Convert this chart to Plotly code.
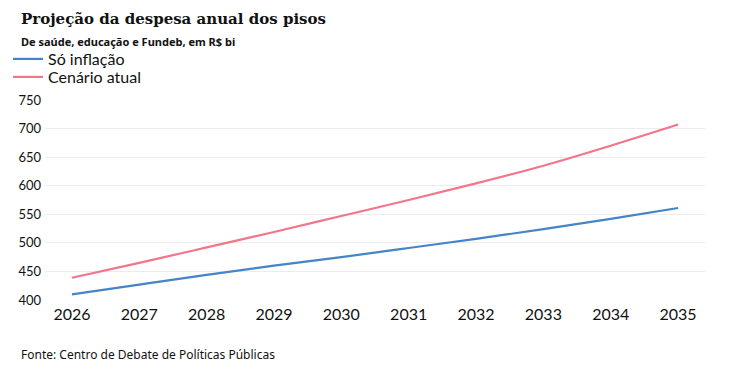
import plotly.graph_objects as go

years = [2026, 2027, 2028, 2029, 2030, 2031, 2032, 2033, 2034, 2035]
so_inflacao = [410, 427, 444, 460, 475, 491, 507, 524, 542, 561]
cenario_atual = [439, 465, 492, 519, 547, 575, 604, 635, 670, 707]
y_ticks = [400, 450, 500, 550, 600, 650, 700, 750]

title = "Projeção da despesa anual dos pisos"
subtitle = "De saúde, educação e Fundeb, em R$ bi"
source = "Fonte: Centro de Debate de Políticas Públicas"

W, H = 737, 372
OFF = 8  # page body margin
L, R, T, B = 37, 40, 92, 80
PW, PH = W - L - R, H - T - B


def px(x):
    return (x - OFF - L) / PW


def py(y):
    return (H - B - (y - OFF)) / PH


fig = go.Figure()
fig.add_trace(go.Scatter(x=years, y=so_inflacao, mode="lines", name="Só inflação",
                         legend="legend",
                         line=dict(color="#4584c6", width=2.2, shape="spline")))
fig.add_trace(go.Scatter(x=years, y=cenario_atual, mode="lines", name="Cenário atual",
                         legend="legend2",
                         line=dict(color="#f37588", width=2.2, shape="spline")))

leg_font = dict(size=16, family="Lato, sans-serif", color="#111")
fig.update_layout(
    width=W, height=H,
    margin=dict(l=L, r=R, t=T, b=B, autoexpand=False),
    paper_bgcolor="white", plot_bgcolor="white",
    font=dict(family="Lato, sans-serif", color="#111"),
    showlegend=True,
    legend=dict(xref="container", yref="container", x=0, y=1 - 34 / H,
                xanchor="left", yanchor="top", font=leg_font,
                itemwidth=30, bgcolor="rgba(0,0,0,0)"),
    legend2=dict(xref="container", yref="container", x=0, y=1 - 52 / H,
                 xanchor="left", yanchor="top", font=leg_font,
                 itemwidth=30, bgcolor="rgba(0,0,0,0)"),
)

fig.add_annotation(text="<b>" + title + "</b>", xref="paper", yref="paper",
                   x=px(19), y=py(19), xanchor="left", yanchor="middle", showarrow=False,
                   font=dict(family="DejaVu Serif, serif", size=15, color="#111"))
fig.add_annotation(text="<b>" + subtitle + "</b>", xref="paper", yref="paper",
                   x=px(19), y=py(41), xanchor="left", yanchor="middle", showarrow=False,
                   font=dict(family="Noto Sans, sans-serif", size=11, color="#111"))
fig.add_annotation(text=source, xref="paper", yref="paper",
                   x=px(19), y=py(354), xanchor="left", yanchor="middle", showarrow=False,
                   font=dict(family="Noto Sans, sans-serif", size=12, color="#111"))

fig.update_xaxes(range=[2025.6, 2035.4], tickvals=years, ticktext=[str(y) for y in years],
                 showgrid=False, zeroline=False, showline=False, ticks="",
                 ticklabelstandoff=3,
                 tickfont=dict(size=16, family="Lato, sans-serif", color="#111"))
fig.update_yaxes(range=[400, 750], tickvals=y_ticks, showgrid=True, gridcolor="#ececec",
                 gridwidth=1, zeroline=False, showline=False, ticks="",
                 ticklabelstandoff=3,
                 tickfont=dict(size=13, family="Lato, sans-serif", color="#111"))

fig.write_html("out.html")
